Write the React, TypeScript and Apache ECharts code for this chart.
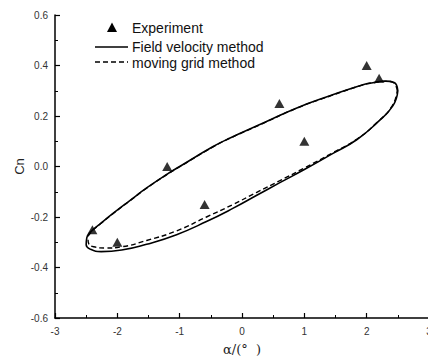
import React, { useEffect, useRef } from "react";
import * as echarts from "echarts";

const expX = [-2.4, -2.0, -1.2, -0.6, 0.6, 1.0, 2.0, 2.2];
const expY = [-0.25, -0.3, 0.0, -0.15, 0.25, 0.1, 0.4, 0.35];

// Field velocity method (solid loop)
const fvX = [2.5, 2.44, 2.3, 2.1, 1.94, 1.41, 0.87, 0.34, -0.2, -0.47, -1.0, -1.2, -1.53, -1.8, -2.07, -2.28, -2.42, -2.49, -2.5, -2.43, -2.26, -1.93, -1.53, -1.05, -0.57, -0.14, 0.23, 0.6, 1.0, 1.46, 1.84, 2.16, 2.42, 2.5];
const fvY = [0.3, 0.333, 0.338, 0.332, 0.324, 0.28, 0.231, 0.172, 0.112, 0.078, 0.0, -0.03, -0.085, -0.135, -0.186, -0.228, -0.257, -0.283, -0.31, -0.328, -0.337, -0.331, -0.308, -0.27, -0.218, -0.165, -0.115, -0.065, -0.012, 0.052, 0.106, 0.172, 0.24, 0.3];

// Moving grid method (dashed loop)
const mgX = [2.49, 2.43, 2.3, 2.1, 1.94, 1.41, 0.87, 0.34, -0.2, -0.47, -1.0, -1.2, -1.53, -1.8, -2.07, -2.28, -2.41, -2.47, -2.46, -2.38, -2.2, -1.93, -1.53, -1.05, -0.57, -0.14, 0.23, 0.6, 1.0, 1.46, 1.84, 2.16, 2.41, 2.49];
const mgY = [0.3, 0.332, 0.337, 0.331, 0.323, 0.279, 0.23, 0.171, 0.111, 0.077, -0.001, -0.031, -0.086, -0.136, -0.187, -0.229, -0.258, -0.285, -0.305, -0.318, -0.323, -0.318, -0.293, -0.255, -0.2, -0.15, -0.103, -0.057, -0.006, 0.055, 0.108, 0.173, 0.24, 0.3];

const seriesNames = ["Experiment", "Field velocity method", "moving grid method"];

const zip = (xs: number[], ys: number[]) => xs.map((x, i) => [x, ys[i]]);

const FONT = '"Liberation Sans", Arial, sans-serif';

export default function App() {
  const ref = useRef<HTMLDivElement>(null);
  useEffect(() => {
    if (!ref.current) return;
    const chart = echarts.init(ref.current, null, { renderer: "svg" });
    const axisLine = { onZero: false, lineStyle: { color: "#000", width: 1.5 } };
    const axisTick = { inside: true, length: 5, lineStyle: { color: "#000", width: 1.2 } };
    const minorTick = { show: true, splitNumber: 2, length: 3, lineStyle: { color: "#000", width: 1 } };
    const axisLabel = { color: "#333", fontSize: 10, fontFamily: FONT };
    const legendText = (text: string, y: number) => ({
      type: "text",
      style: { text, x: 132, y, fill: "#111", font: `14px ${FONT}`, verticalAlign: "middle", align: "left" },
    });
    chart.setOption({
      animation: false,
      backgroundColor: "#fff",
      grid: { left: 55, top: 15, right: -1, bottom: 42, containLabel: false, outerBoundsMode: "none" },
      graphic: [
        {
          type: "polygon",
          shape: { points: [[107, 32], [117, 32], [112, 22.5]] },
          style: { fill: "#000" },
        },
        legendText(seriesNames[0], 28),
        {
          type: "line",
          shape: { x1: 95, y1: 47, x2: 128, y2: 47 },
          style: { stroke: "#000", lineWidth: 1.5 },
        },
        legendText(seriesNames[1], 47),
        {
          type: "line",
          shape: { x1: 95, y1: 62, x2: 128, y2: 62 },
          style: { stroke: "#000", lineWidth: 1.4, lineDash: [5, 3] },
        },
        legendText(seriesNames[2], 63),
      ],
      xAxis: {
        type: "value",
        min: -3,
        max: 3,
        interval: 1,
        axisLine,
        axisTick,
        minorTick,
        splitLine: { show: false },
        axisLabel: { ...axisLabel, margin: 8 },
        name: "α/(°  )",
        nameLocation: "middle",
        nameGap: 25,
        nameMoveOverlap: false,
        nameTextStyle: { fontSize: 13, color: "#222", fontFamily: "DejaVu Serif, serif" },
      },
      yAxis: {
        type: "value",
        min: -0.6,
        max: 0.6,
        interval: 0.2,
        axisLine,
        axisTick,
        minorTick,
        splitLine: { show: false },
        axisLabel: { ...axisLabel, margin: 7, formatter: (v: number) => v.toFixed(1) },
        name: "Cn",
        nameLocation: "middle",
        nameGap: 29,
        nameRotate: 90,
        nameMoveOverlap: false,
        nameTextStyle: { fontSize: 13, color: "#222", fontFamily: FONT },
      },
      series: [
        {
          name: seriesNames[0],
          type: "scatter",
          symbol: "triangle",
          symbolSize: [10, 9],
          itemStyle: { color: "#000" },
          data: zip(expX, expY),
          z: 3,
        },
        {
          name: seriesNames[1],
          type: "line",
          showSymbol: false,
          symbol: "none",
          smooth: 0.5,
          lineStyle: { color: "#000", width: 1.6, type: "solid" },
          data: zip(fvX, fvY),
        },
        {
          name: seriesNames[2],
          type: "line",
          showSymbol: false,
          symbol: "none",
          smooth: 0.5,
          lineStyle: { color: "#000", width: 1.4, type: [5, 3] },
          data: zip(mgX, mgY),
        },
      ],
    });
    return () => chart.dispose();
  }, []);
  return <div ref={ref} style={{ position: "fixed", left: 0, top: 0, width: 428, height: 360 }} />;
}
